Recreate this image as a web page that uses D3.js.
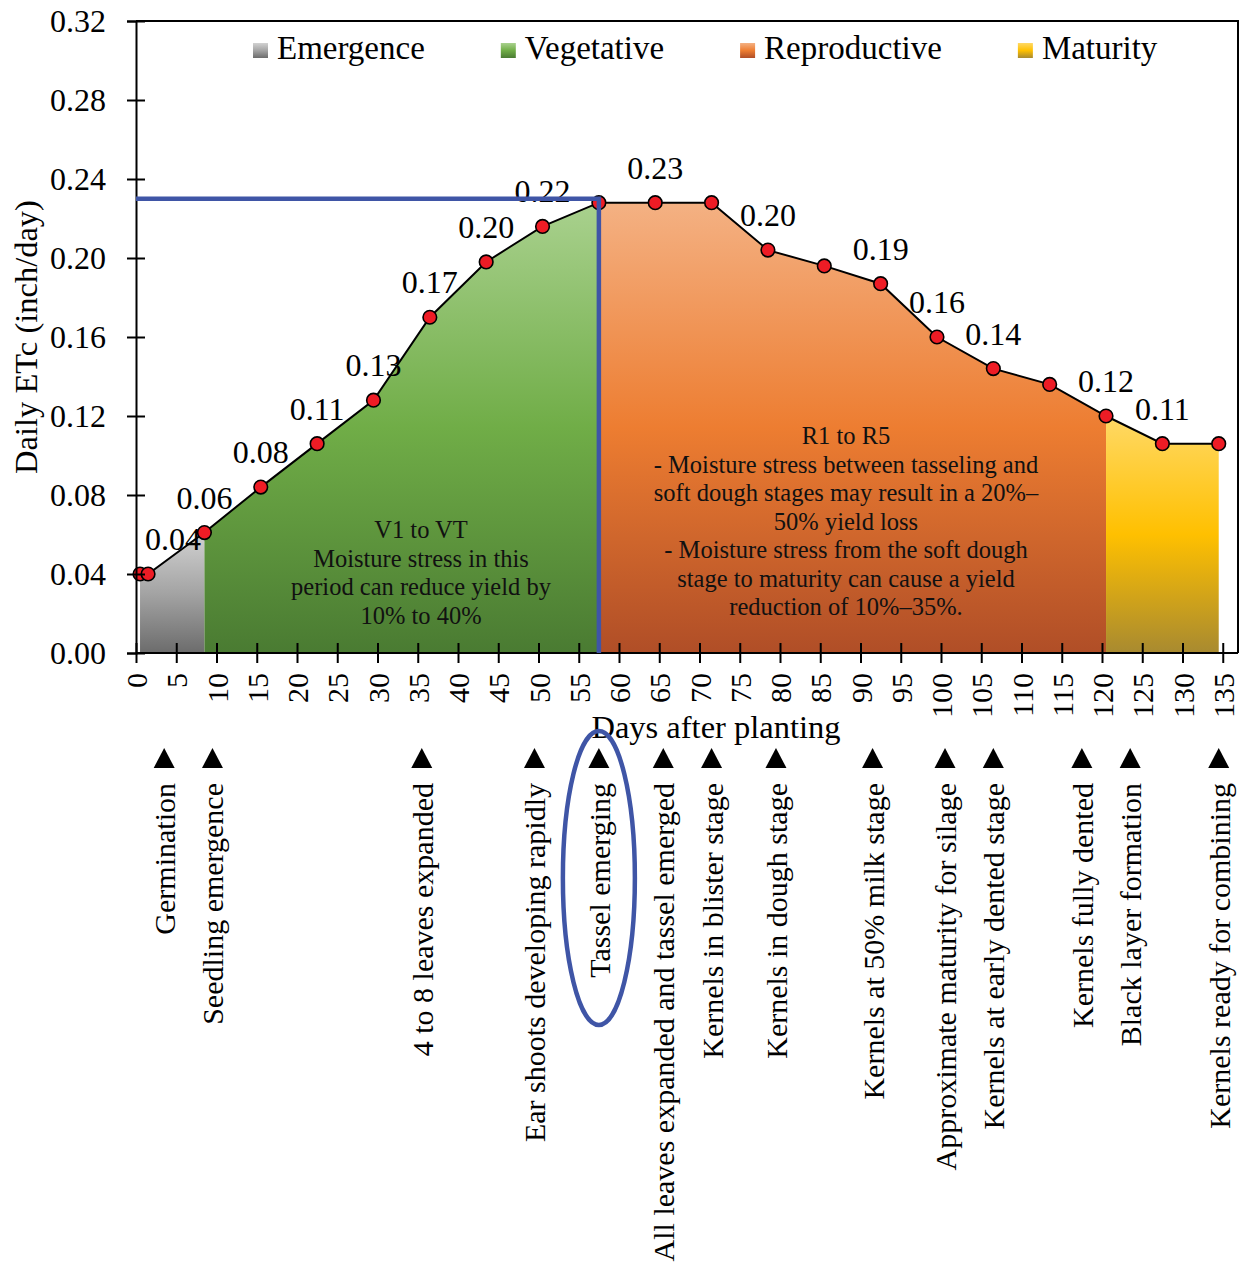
<!DOCTYPE html>
<html>
<head>
<meta charset="utf-8">
<script src="https://cdn.jsdelivr.net/npm/d3@7"></script>
<style>
  html, body { margin: 0; padding: 0; background: #fff; }
  svg { display: block; font-family: "Liberation Serif", "Times New Roman", serif; }
</style>
</head>
<body>
<svg id="chart" width="1243" height="1263"></svg>
<script>
// Daily crop evapotranspiration (ETc) of corn over the growing season
const days = [0, 1, 8, 15, 22, 29, 36, 43, 50, 57, 64, 71, 78, 85, 92, 99, 106, 113, 120, 127, 134];
const etc  = [0.040, 0.040, 0.061, 0.084, 0.106, 0.128, 0.170, 0.198, 0.216, 0.228, 0.228, 0.228,
              0.204, 0.196, 0.187, 0.160, 0.144, 0.136, 0.120, 0.106, 0.106];
// points that carry a value label (index into days / etc)
const labelledPoints = [1, 2, 3, 4, 5, 6, 7, 8, 10, 12, 14, 15, 16, 18, 19];

// growth stages (start / end day of each shaded band)
const stageNames = ["Emergence", "Vegetative", "Reproductive", "Maturity"];
const stageStart = [0, 8, 57, 120];
const stageEnd   = [8, 57, 120, 134];

// peak-demand guide
const peakDay = 57;
const peakEtc = 0.23;

// axis ticks
const dayTicks = [0, 5, 10, 15, 20, 25, 30, 35, 40, 45, 50, 55, 60, 65, 70, 75, 80, 85, 90, 95,
                  100, 105, 110, 115, 120, 125, 130, 135];
const etcTicks = [0, 0.04, 0.08, 0.12, 0.16, 0.20, 0.24, 0.28, 0.32];

// crop development events along the time axis
const eventDays  = [3, 9, 35, 49, 57, 65, 71, 79, 91, 100, 106, 117, 123, 134];
const eventNames = ["Germination", "Seedling emergence", "4 to 8 leaves expanded",
  "Ear shoots developing rapidly", "Tassel emerging", "All leaves expanded and tassel emerged",
  "Kernels in blister stage", "Kernels in dough stage", "Kernels at 50% milk stage",
  "Approximate maturity for silage", "Kernels at early dented stage", "Kernels fully dented",
  "Black layer formation", "Kernels ready for combining"];
const highlightedEvent = "Tassel emerging";

// stage notes
const vegNote = ["V1 to VT", "Moisture stress in this", "period can reduce yield by", "10% to 40%"];
const repNote = ["R1 to R5", "- Moisture stress between tasseling and",
  "soft dough stages may result in a 20%\u2013", "50% yield loss",
  "- Moisture stress from the soft dough", "stage to maturity can cause a yield",
  "reduction of 10%\u201335%."];

// ---------------------------------------------------------------------------
const svg = d3.select("#chart");
const plotLeft = 136, plotRight = 1238;

const x = d3.scaleLinear().domain([0, 135]).range([plotLeft, plotLeft + 135 * 8.05]);
const y = d3.scaleLinear().domain([0, 0.32]).range([653, 21]);
// each day's value sits at the centre of its day
const px = d => x(d + 0.5);

const stageGradients = [
  ["#d2d2d2", "#a4a4a4", "#6c6c6c"],
  ["#a9d18e", "#70ad47", "#4a7b32"],
  ["#f4b183", "#ed7d31", "#b04e27"],
  ["#ffd966", "#ffc000", "#a88a30"]
];

const defs = svg.append("defs");
stageGradients.forEach((c, i) => {
  const g = defs.append("linearGradient")
    .attr("id", "stage" + i)
    .attr("x1", 0).attr("y1", 0).attr("x2", 0).attr("y2", 1);
  g.append("stop").attr("offset", "0%").attr("stop-color", c[0]);
  g.append("stop").attr("offset", "50%").attr("stop-color", c[1]);
  g.append("stop").attr("offset", "100%").attr("stop-color", c[2]);
});

// shaded stage areas under the ETc curve
const area = d3.area()
  .x(i => px(days[i]))
  .y0(y(0))
  .y1(i => y(etc[i]));

stageNames.forEach((name, s) => {
  const idx = d3.range(days.length).filter(i => days[i] >= stageStart[s] && days[i] <= stageEnd[s]);
  svg.append("path")
    .attr("d", area(idx))
    .attr("fill", `url(#stage${s})`);
});

// stage notes
function note(lines, cx, firstBaseline) {
  const t = svg.append("text")
    .attr("text-anchor", "middle")
    .attr("font-size", 24.5)
    .attr("fill", "#111");
  lines.forEach((ln, k) => {
    t.append("tspan").attr("x", cx).attr("y", firstBaseline + k * 28.5).text(ln);
  });
}
note(vegNote, 421, 538);
note(repNote, 846, 444);

// value labels
const fmt = d3.format(".2f");
const labelShift = { 1: 25 };
svg.append("g")
  .attr("font-size", 32)
  .attr("text-anchor", "middle")
  .selectAll("text")
  .data(labelledPoints)
  .join("text")
  .attr("x", i => px(days[i]) + (labelShift[i] || 0))
  .attr("y", i => y(etc[i]) - 24)
  .text(i => fmt(etc[i]));

// ETc curve and points
const line = d3.line().x(i => px(days[i])).y(i => y(etc[i]));
svg.append("path")
  .attr("d", line(d3.range(days.length)))
  .attr("fill", "none")
  .attr("stroke", "#000")
  .attr("stroke-width", 2);

svg.append("g")
  .selectAll("circle")
  .data(d3.range(days.length))
  .join("circle")
  .attr("cx", i => px(days[i]))
  .attr("cy", i => y(etc[i]))
  .attr("r", 6.8)
  .attr("fill", "#ee1c25")
  .attr("stroke", "#000")
  .attr("stroke-width", 1.6);

// frame
svg.append("path")
  .attr("d", `M${plotLeft},${y(0.32)}H${plotRight}V${y(0)}`)
  .attr("fill", "none").attr("stroke", "#000").attr("stroke-width", 2);
svg.append("line")
  .attr("x1", plotLeft).attr("x2", plotRight)
  .attr("y1", y(0)).attr("y2", y(0))
  .attr("stroke", "#000").attr("stroke-width", 2);

// axes
const yAxis = svg.append("g")
  .attr("transform", `translate(${plotLeft},0)`)
  .call(d3.axisLeft(y).tickValues(etcTicks).tickFormat(d3.format(".2f")).tickSize(9).tickPadding(21));
yAxis.select(".domain").attr("stroke-width", 2);
yAxis.selectAll(".tick line").attr("x1", 9).attr("x2", -9).attr("stroke-width", 2);
yAxis.selectAll(".tick text")
  .attr("font-family", "Liberation Serif, Times New Roman, serif")
  .attr("font-size", 32).attr("fill", "#000");

const xAxis = svg.append("g")
  .attr("transform", `translate(0,${y(0)})`)
  .call(d3.axisBottom(x).tickValues(dayTicks).tickFormat(d3.format("d")).tickSize(10));
xAxis.select(".domain").remove();
xAxis.selectAll(".tick line").attr("y1", -10).attr("y2", 10).attr("stroke-width", 2);
xAxis.selectAll(".tick text")
  .attr("font-family", "Liberation Serif, Times New Roman, serif")
  .attr("font-size", 30).attr("fill", "#000")
  .attr("transform", "rotate(-90)")
  .attr("x", -20).attr("y", 0).attr("dy", "0.35em")
  .attr("text-anchor", "end");

// peak-demand guide lines
const guideColor = "#3f55a6";
svg.append("path")
  .attr("d", `M${plotLeft},${y(peakEtc)}H${px(peakDay)}V${y(0)}`)
  .attr("fill", "none")
  .attr("stroke", guideColor)
  .attr("stroke-width", 4.5);

// axis titles
svg.append("text")
  .attr("transform", `translate(37,337) rotate(-90)`)
  .attr("text-anchor", "middle")
  .attr("font-size", 32.5)
  .text("Daily ETc (inch/day)");
svg.append("text")
  .attr("x", 716).attr("y", 738)
  .attr("text-anchor", "middle")
  .attr("font-size", 32.5)
  .text("Days after planting");

// legend
const legend = svg.append("g").attr("font-size", 33);
let lx = 253;
stageNames.forEach((name, s) => {
  legend.append("rect")
    .attr("x", lx).attr("y", 43).attr("width", 15).attr("height", 15)
    .attr("fill", `url(#stage${s})`);
  const t = legend.append("text").attr("x", lx + 24).attr("y", 59).text(name);
  lx += 24 + t.node().getComputedTextLength() + 76;
});

// development events below the axis
const ev = svg.append("g").attr("font-size", 30);
eventDays.forEach((d, k) => {
  const cx = px(d);
  ev.append("path")
    .attr("d", `M${cx},748L${cx + 10.5},768L${cx - 10.5},768Z`)
    .attr("fill", "#000");
  ev.append("text")
    .attr("transform", `translate(${cx + 11},783) rotate(-90)`)
    .attr("text-anchor", "end")
    .text(eventNames[k]);
  if (eventNames[k] === highlightedEvent) {
    ev.append("ellipse")
      .attr("cx", cx).attr("cy", 878)
      .attr("rx", 36).attr("ry", 147)
      .attr("fill", "none")
      .attr("stroke", guideColor)
      .attr("stroke-width", 4.5);
  }
});
</script>
</body>
</html>
